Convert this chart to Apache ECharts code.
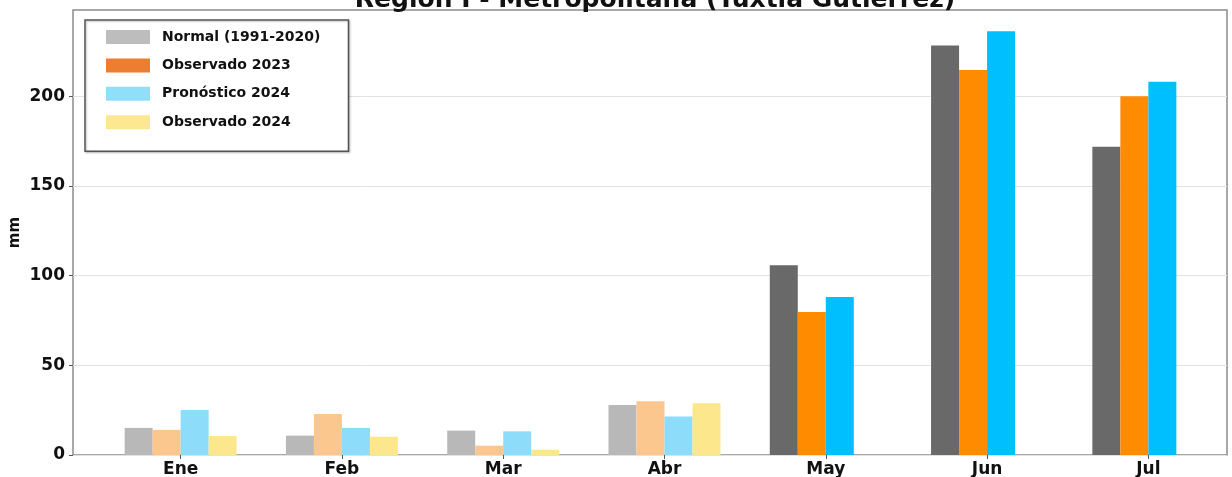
<!DOCTYPE html>
<html>
<head>
<meta charset="utf-8">
<script src="https://cdn.jsdelivr.net/npm/echarts@6/dist/echarts.min.js"></script>
<style>
html,body{margin:0;padding:0;background:#fff;}
#chart{width:1232px;height:477px;}
</style>
</head>
<body>
<div id="chart"></div>
<script>
const titleText = 'Región I - Metropolitana (Tuxtla Gutiérrez)';
const months = ['Ene', 'Feb', 'Mar', 'Abr', 'May', 'Jun', 'Jul'];
const seriesNames = ['Normal (1991-2020)', 'Observado 2023', 'Pronóstico 2024', 'Observado 2024'];
const normal = [15.1, 10.8, 13.6, 27.8, 105.7, 228.2, 171.8];
const obs2023 = [14.0, 22.9, 5.2, 29.9, 79.7, 214.5, 200.0];
const pron2024 = [25.1, 15.1, 13.2, 21.5, 88.1, 236.2, 208.0];
const obs2024 = [10.6, 10.2, 2.9, 28.9, null, null, null];
const yTicks = [0, 50, 100, 150, 200];

const legendColors = ['#bdbdbd', '#ed7d31', '#8fdffa', '#fce891'];
const lightColors = ['#b8b8b8', '#fcc78f', '#8ddcfa', '#fce78d'];
const darkColors = ['#696969', '#ff8c00', '#00bfff', '#ffd700'];
const FONT = 'DejaVu Sans';

const allValues = [normal, obs2023, pron2024, obs2024];

function buildData(vals, si) {
  return vals.map((v, i) => ({
    value: v,
    itemStyle: { color: i < 4 ? lightColors[si] : darkColors[si] }
  }));
}

const chart = echarts.init(document.getElementById('chart'), null, { renderer: 'canvas' });

const option = {
  animation: false,
  backgroundColor: '#ffffff',
  title: {
    text: titleText,
    left: 650,
    textAlign: 'center',
    top: -17,
    textStyle: { fontFamily: FONT, fontWeight: 'bold', fontSize: 25, color: '#111' }
  },
  legend: {
    orient: 'vertical',
    left: 85,
    top: 20,
    padding: [10, 28, 22, 21],
    itemWidth: 44,
    itemHeight: 14,
    itemGap: 14.4,
    backgroundColor: '#ffffff',
    borderColor: '#555',
    borderWidth: 1.5,
    borderRadius: 0,
    shadowColor: 'rgba(0,0,0,0.25)',
    shadowBlur: 2,
    shadowOffsetX: 1,
    shadowOffsetY: 1,
    textStyle: { fontFamily: FONT, fontWeight: 'bold', fontSize: 14, color: '#111', padding: [0, 0, 0, 7] },
    data: seriesNames.map((n, i) => ({ name: n, icon: 'rect', itemStyle: { color: legendColors[i] } }))
  },
  grid: [
    { left: 73, right: 5, top: 10, bottom: 22, outerBoundsMode: 'none', containLabel: false, show: true, borderColor: '#8c8c8c', borderWidth: 1.5, backgroundColor: 'transparent' },
    { left: 100, width: 1129, top: 10, bottom: 22, outerBoundsMode: 'none', containLabel: false }
  ],
  xAxis: [
    { gridIndex: 0, type: 'value', min: 0, max: 1, show: false },
    {
      gridIndex: 1, type: 'category', data: months,
      axisLine: { show: false },
      axisTick: { show: true, alignWithLabel: true, length: 4, lineStyle: { color: '#555' } },
      axisLabel: { fontFamily: FONT, fontWeight: 'bold', fontSize: 17, color: '#111', margin: 6 }
    }
  ],
  yAxis: [
    {
      gridIndex: 0, type: 'value', min: 0, max: 248, interval: 50,
      name: 'mm', nameLocation: 'middle', nameGap: 50, nameMoveOverlap: false,
      nameTextStyle: { fontFamily: FONT, fontWeight: 'bold', fontSize: 15, color: '#111' },
      axisLine: { show: false },
      axisTick: { show: true, length: 4, customValues: yTicks, lineStyle: { color: '#555' } },
      axisLabel: { fontFamily: FONT, fontWeight: 'bold', fontSize: 17, color: '#111', margin: 8, customValues: yTicks },
      splitLine: { show: true, lineStyle: { color: '#e2e2e2', width: 1 } }
    },
    { gridIndex: 1, type: 'value', min: 0, max: 248, show: false, splitLine: { show: false } }
  ],
  series: allValues.map((vals, si) => ({
    name: seriesNames[si],
    type: 'bar',
    xAxisIndex: 1,
    yAxisIndex: 1,
    barWidth: 28,
    barGap: '0%',
    itemStyle: { color: legendColors[si] },
    data: buildData(vals, si)
  }))
};

chart.setOption(option);
</script>
</body>
</html>
